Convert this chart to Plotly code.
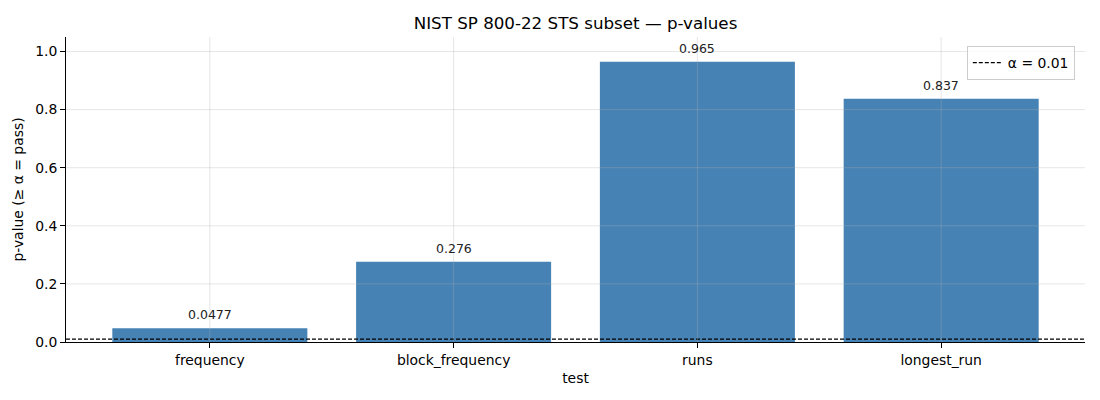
import plotly.graph_objects as go

tests = ['frequency', 'block_frequency', 'runs', 'longest_run']
p_values = [0.0477, 0.276, 0.965, 0.837]
alpha = 0.01
labels = ['%.3g' % p for p in p_values]
y_ticks = [0.0, 0.2, 0.4, 0.6, 0.8, 1.0]

font = 'DejaVu Sans'
grid = 'rgba(176,176,176,0.32)'

fig = go.Figure()
fig.add_trace(go.Bar(x=tests, y=p_values, width=0.8, marker=dict(color='#4682B4', line=dict(width=0)),
                     showlegend=False, hoverinfo='x+y'))
# legend-only entry for the threshold line
fig.add_trace(go.Scatter(x=[None], y=[None], mode='lines', name='α = 0.01',
                         line=dict(color='black', dash='4px,2px', width=1.2)))
fig.add_shape(type='line', xref='paper', x0=0, x1=1, yref='y', y0=alpha, y1=alpha,
              line=dict(color='black', dash='4px,2px', width=1.2))

# grid drawn on top of the bars, like matplotlib does here
for t in tests:
    fig.add_shape(type='line', xref='x', x0=t, x1=t, yref='paper', y0=0, y1=1,
                  line=dict(color=grid, width=1), layer='above')
for v in y_ticks[1:]:
    fig.add_shape(type='line', xref='paper', x0=0, x1=1, yref='y', y0=v, y1=v,
                  line=dict(color=grid, width=1), layer='above')

for t, p, lab in zip(tests, p_values, labels):
    fig.add_annotation(x=t, y=p, text=lab, showarrow=False, yanchor='bottom', yshift=4,
                       font=dict(family=font, size=12.5, color='#222'))

# the page body adds an 8px offset, margins compensate for it
fig.update_layout(
    width=1100, height=400,
    margin=dict(l=58, r=23, t=29, b=66),
    paper_bgcolor='white', plot_bgcolor='white',
    font=dict(family=font, size=13.9, color='black'),
    title=dict(text='NIST SP 800-22 STS subset — p-values', x=0.5, xanchor='center', xref='paper',
               y=0.963, yanchor='middle', font=dict(size=16.7)),
    legend=dict(x=0.99, y=0.97, xanchor='right', yanchor='top', bgcolor='rgba(255,255,255,0.8)',
                bordercolor='#cccccc', borderwidth=1, font=dict(size=13.9)),
    bargap=0.2,
)
fig.update_xaxes(range=[-0.59, 3.59], showline=True, linecolor='black', linewidth=1,
                 ticks='outside', ticklen=5, tickcolor='black', showgrid=False,
                 layer='above traces', automargin=False, tickfont=dict(size=13.9),
                 title=dict(text='test', standoff=6, font=dict(size=13.9)), zeroline=False)
fig.update_yaxes(range=[0, 1.05], tickvals=y_ticks, tickformat='.1f', showline=True, linecolor='black',
                 linewidth=1, ticks='outside', ticklen=5, tickcolor='black', showgrid=False,
                 layer='above traces', automargin=False, tickfont=dict(size=13.9),
                 title=dict(text='p-value (≥ α = pass)', standoff=8, font=dict(size=13.9)), zeroline=False)

fig.write_html('out.html')
